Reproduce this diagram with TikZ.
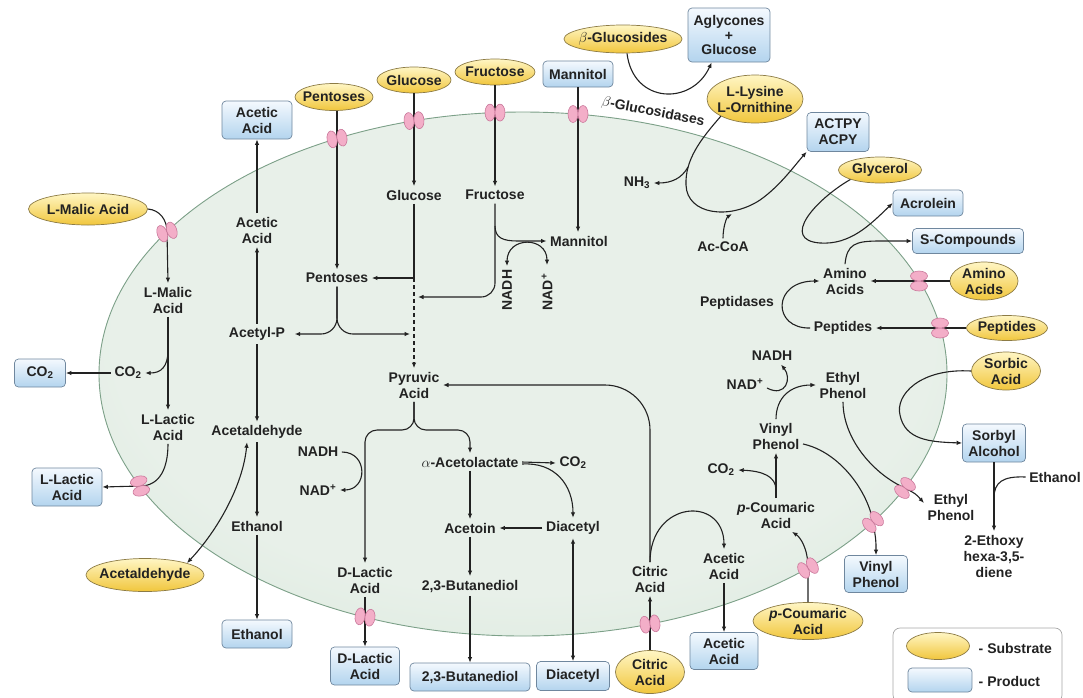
\documentclass[tikz,border=0pt]{standalone}
\usepackage{fontspec}
\setmainfont{Liberation Sans}
\usetikzlibrary{shapes.geometric,arrows.meta,calc}
\definecolor{subTop}{HTML}{FFF6C4}
\definecolor{subBot}{HTML}{F1C63C}
\definecolor{subLine}{HTML}{8C7B45}
\definecolor{prodTop}{HTML}{F4F9FE}
\definecolor{prodBot}{HTML}{B3D4EE}
\definecolor{prodLine}{HTML}{6F879E}
\definecolor{cellA}{HTML}{E8F0E9}
\definecolor{cellB}{HTML}{D3E6D7}
\definecolor{cellC}{HTML}{A6CFB2}
\definecolor{cellLine}{HTML}{7CA088}
\definecolor{chanFill}{HTML}{F3AEC8}
\definecolor{chanLine}{HTML}{C9779A}
\definecolor{ink}{HTML}{222222}
\pgfdeclareradialshading{cellshade}{\pgfpoint{0bp}{6bp}}{color(0bp)=(cellA); color(24bp)=(cellA); color(40bp)=(cellB); color(50bp)=(cellC)}
\newcommand{\labfont}{\bfseries\fontsize{14}{16}\selectfont}
\tikzset{
  sub/.style={ellipse, draw=subLine, line width=0.7pt, top color=subTop, bottom color=subBot, inner xsep=-6pt, inner ysep=-4pt, font=\labfont, align=center, text=ink},
  legsub/.style={ellipse, draw=subLine, line width=0.7pt, top color=subTop, bottom color=subBot, inner sep=0pt},
  prod/.style={rectangle, rounded corners=4pt, draw=prodLine, line width=0.7pt, top color=prodTop, bottom color=prodBot, inner sep=1pt, font=\labfont, align=center, text=ink},
  lab/.style={font=\labfont, align=center, inner sep=3.5pt, text=ink},
  con/.style={draw=ink, line width=1.1pt},
  arr/.style={con, -{Latex[length=5.5pt,width=4.5pt]}},
  darr/.style={con, {Latex[length=5.5pt,width=4.5pt]}-{Latex[length=5.5pt,width=4.5pt]}},
  chan/.pic={\foreach \s in {-1,1}{\draw[draw=chanLine, fill=chanFill, line width=0.6pt] (\s*5,0) ellipse [x radius=5, y radius=8.5];}}
}
\begin{document}
\begin{tikzpicture}[x=1pt,y=-1pt]
\useasboundingbox (0,0) rectangle (1083,697);
% cell
\shadedraw[shading=cellshade, draw=cellLine, line width=0.9pt] (523,374) ellipse [x radius=424, y radius=262];

% channel coordinates
\coordinate (cPent) at (337,138.5);
\coordinate (cGlc) at (414,120.6);
\coordinate (cFru) at (495,112.6);
\coordinate (cMan) at (578,114);
\coordinate (cMal) at (167,232);
\coordinate (cLLac) at (140,486);
\coordinate (cDLac) at (365,617);
\coordinate (cCit) at (650,624);
\coordinate (cCoum) at (808,568);
\coordinate (cVin) at (873,522);
\coordinate (cEth) at (905,488);
\coordinate (cAA) at (919,281);
\coordinate (cPep) at (940,328);

% outside nodes
\node[sub, minimum width=78, minimum height=27] (sPent) at (334,97) {Pentoses};
\node[sub, minimum width=74, minimum height=26] (sGlc) at (414,80) {Glucose};
\node[sub, minimum width=80, minimum height=26] (sFru) at (495,72) {Fructose};
\node[prod, minimum width=70, minimum height=26] (pMan) at (578,74) {Mannitol};
\node[sub, minimum width=118, minimum height=28] (sBG) at (623,39) {$\beta$-Glucosides};
\node[prod, minimum width=82, minimum height=54, font=\bfseries\fontsize{14}{14.5}\selectfont] (pAgly) at (729,35) {Aglycones\\+\\Glucose};
\node[sub, minimum width=96, minimum height=48] (sLys) at (755,99) {L-Lysine\\L-Ornithine};
\node[prod, minimum width=62, minimum height=39] (pACT) at (838,132) {ACTPY\\ACPY};
\node[sub, minimum width=83, minimum height=26] (sGly) at (880,170) {Glycerol};
\node[prod, minimum width=70, minimum height=26] (pAcr) at (928,203) {Acrolein};
\node[prod, minimum width=111, minimum height=25] (pSC) at (968,241) {S-Compounds};
\node[sub, minimum width=68, minimum height=38] (sAA) at (984,281) {Amino\\Acids};
\node[sub, minimum width=81, minimum height=25] (sPep) at (1007,328) {Peptides};
\node[sub, minimum width=69, minimum height=38] (sSorb) at (1006,371) {Sorbic\\Acid};
\node[prod, minimum width=63, minimum height=38] (pSorbyl) at (994,443) {Sorbyl\\Alcohol};
\node[lab] (tEtOH) at (1055,477) {Ethanol};
\node[lab] (tEthoxy) at (994,556) {2-Ethoxy\\hexa-3,5-\\diene};
\node[lab] (tEthylOut) at (951,507) {Ethyl\\Phenol};
\node[prod, minimum width=63, minimum height=37] (pVinyl) at (876,574) {Vinyl\\Phenol};
\node[sub, minimum width=110, minimum height=37] (sCoum) at (808,621) {\textit{p}-Coumaric\\Acid};
\node[prod, minimum width=68, minimum height=37] (pAcOut2) at (724,651) {Acetic\\Acid};
\node[sub, minimum width=69, minimum height=43] (sCit) at (650,672) {Citric\\Acid};
\node[prod, minimum width=73, minimum height=29] (pDiac) at (573,676) {Diacetyl};
\node[prod, minimum width=120, minimum height=28] (pBut) at (470,677) {2,3-Butanediol};
\node[prod, minimum width=69, minimum height=38] (pDLac) at (365,666) {D-Lactic\\Acid};
\node[prod, minimum width=70, minimum height=28] (pEtOH) at (257,634) {Ethanol};
\node[sub, minimum width=118, minimum height=33] (sAcald) at (145,575) {Acetaldehyde};
\node[prod, minimum width=70, minimum height=38] (pLLac) at (67,487) {L-Lactic\\Acid};
\node[prod, minimum width=51, minimum height=28] (pCO2) at (40,373) {CO\textsubscript{2}};
\node[sub, minimum width=119, minimum height=32] (sMal) at (88,209) {L-Malic Acid};
\node[prod, minimum width=70, minimum height=38] (pAcOut) at (257,120) {Acetic\\Acid};

% inner labels
\node[lab] (iAcet) at (257,230) {Acetic\\Acid};
\node[lab] (iPent) at (337,278) {Pentoses};
\node[lab] (iGlc) at (414,195) {Glucose};
\node[lab] (iFru) at (495,195) {Fructose};
\node[lab] (iMan) at (579,241) {Mannitol};
\node[lab, rotate=90] (iNADH1) at (507,290) {NADH};
\node[lab, rotate=90] (iNAD1) at (547,292) {NAD\textsuperscript{+}};
\node[lab] (iMal) at (168,300) {L-Malic\\Acid};
\node[lab] (iAcP) at (257,334) {Acetyl-P};
\node[lab] (iCO2) at (128,373) {CO\textsubscript{2}};
\node[lab] (iLLac) at (168,427) {L-Lactic\\Acid};
\node[lab] (iAcald) at (257,432) {Acetaldehyde};
\node[lab] (iNADH2) at (318,452) {NADH};
\node[lab] (iNAD2) at (318,490) {NAD\textsuperscript{+}};
\node[lab] (iEtOH) at (257,526) {Ethanol};
\node[lab] (iPyr) at (414,385) {Pyruvic\\Acid};
\node[lab] (iAcl) at (470,462) {$\alpha$-Acetolactate};
\node[lab] (iCO2b) at (573,463) {CO\textsubscript{2}};
\node[lab] (iAcetoin) at (470,528) {Acetoin};
\node[lab] (iDiac) at (573,528) {Diacetyl};
\node[lab] (iBut) at (470,586) {2,3-Butanediol};
\node[lab] (iDLac) at (365,580) {D-Lactic\\Acid};
\node[lab] (iCit) at (650,579) {Citric\\Acid};
\node[lab] (iAcet2) at (724,566) {Acetic\\Acid};
\node[lab] (iCoum) at (776,515) {\textit{p}-Coumaric\\Acid};
\node[lab] (iCO2c) at (721,470) {CO\textsubscript{2}};
\node[lab] (iVinyl) at (776,436) {Vinyl\\Phenol};
\node[lab] (iEthyl) at (843,385) {Ethyl\\Phenol};
\node[lab] (iNADH3) at (772,356) {NADH};
\node[lab] (iNAD3) at (745,384) {NAD\textsuperscript{+}};
\node[lab] (iAA) at (845,281) {Amino\\Acids};
\node[lab] (iPep) at (843,328) {Peptides};
\node[lab] (iPeptidases) at (737,303) {Peptidases};
\node[lab] (iNH3) at (637,183) {NH\textsubscript{3}};
\node[lab] (iAcCoA) at (723,247) {Ac-CoA};
\node[lab, rotate=-11, inner sep=1pt] (tBGase) at (653,112) {$\beta$-Glucosidases};

% junction coordinates
\coordinate (jG) at (414,278);
\coordinate (jF) at (414,297);
\coordinate (jP) at (414,334);
\coordinate (jM1) at (495,226);
\coordinate (jMal) at (168,350);
\coordinate (jC) at (776,490);
\coordinate (jE) at (994,498);
\coordinate (jL) at (688,167);
\coordinate (jA) at (732,214);

% connectors: top sugars
\draw[arr] (sPent.south -| cPent) -- (iPent.north);
\draw[arr] (sGlc.south) -- (iGlc.north);
\draw[arr] (sFru.south) -- (iFru.north);
\draw[arr] (pMan.south) -- (pMan.south |- iMan.north);
\draw[con] (iGlc.south) -- (jG);
\draw[arr, dash pattern=on 4pt off 3pt] (jG) -- (iPyr.north);
\draw[arr] (jG) -- (iPent.east);
\draw[arr, rounded corners=14pt] (iFru.south) |- ([xshift=4pt]jF);
\draw[arr] (jM1) .. controls (495,238) and (503,241) .. (518,241) -- (iMan.west);
\draw[darr] (iNADH1.east) .. controls (507,236) and (547,236) .. ([yshift=5pt]iNAD1.east);
\draw[arr, rounded corners=16pt] (iPent.south) |- ([xshift=6pt]iAcP.east);
\draw[arr, rounded corners=16pt] (iPent.south) |- ([xshift=-4pt]jP);

% left pathway
\draw[arr] (iAcP.north) -- (iAcet.south);
\draw[arr] (iAcP.south) -- (iAcald.north);
\draw[arr] (iAcet.north) -- (pAcOut.south);
\draw[arr] (iAcald.south) -- (iEtOH.north);
\draw[arr] (iEtOH.south) -- (pEtOH.north);
\draw[darr] ([xshift=-10pt]iAcald.south) .. controls (243,485) and (218,530) .. (sAcald.north east);
\draw[arr] (sMal.east) .. controls (160,210) and (167,220) .. (cMal) -- (iMal.north);
\draw[arr] (iMal.south) -- (iLLac.north);
\draw[arr] (jMal) .. controls (168,367) and (161,373) .. (iCO2.east);
\draw[arr] (iCO2.west) -- (pCO2.east);
\draw[arr] (iLLac.south) .. controls (168,468) and (160,486) .. (cLLac) -- (pLLac.east);

% pyruvate
\draw[arr, rounded corners=12pt] (iPyr.south) |- (440,430) -| (iAcl.north);
\draw[arr, rounded corners=12pt] (iPyr.south) |- (390,430) -| (iDLac.north);
\draw[arr] (iNADH2.east) .. controls (368,452) and (368,490) .. (iNAD2.east);
\draw[arr] (iDLac.south) -- (pDLac.north);
\draw[arr] (iAcl.south) -- (iAcetoin.north);
\draw[arr] (iAcl.east) -- (iCO2b.west);
\draw[arr] ([yshift=-2pt]iAcl.east) .. controls (555,462) and (573,485) .. (iDiac.north);
\draw[arr] (iDiac.west) -- (iAcetoin.east);
\draw[arr] (iAcetoin.south) -- (iBut.north);
\draw[arr] (iBut.south) -- (pBut.north);
\draw[darr] (iDiac.south) -- (pDiac.north);

% citrate
\draw[arr] (sCit.north) -- (iCit.south);
\draw[arr, rounded corners=45pt] (iCit.north) |- (iPyr.east);
\draw[arr] (iCit.north) .. controls (650,500) and (724,495) .. (iAcet2.north);
\draw[arr] (iAcet2.south) -- (pAcOut2.north);

% phenols
\draw[arr] (sCoum.north) -- (cCoum) .. controls (808,548) and (800,537) .. ([xshift=16pt]iCoum.south);
\draw[arr] (iCoum.north) -- (iVinyl.south);
\draw[arr] (jC) .. controls (776,476) and (762,471) .. (iCO2c.east);
\draw[arr] (iVinyl.north) .. controls (776,398) and (790,385) .. (iEthyl.west);
\draw[arr] ([yshift=-4pt]iNAD3.east) .. controls (786,398) and (792,378) .. ([xshift=9pt]iNADH3.south);
\draw[arr] (iEthyl.south) .. controls (843,440) and (875,475) .. (cEth) .. controls (916,494) .. ([yshift=4pt]tEthylOut.west);
\draw[arr] ([yshift=-8pt]iVinyl.east) .. controls (840,452) and (868,492) .. (cVin) .. controls (876,540) .. (pVinyl.north);

% amino acids / peptides
\draw[arr] (sAA.west) -- (iAA.east);
\draw[arr] (sPep.west) -- (iPep.east);
\draw[arr] (iPep.west) .. controls (772,329) and (772,281) .. (iAA.west);
\draw[arr] (iAA.north) .. controls (847,244) and (855,241) .. (880,241) -- (pSC.west);

% sorbic
\draw[arr] (sSorb.west) .. controls (920,368) and (895,395) .. (900,415) .. controls (905,440) and (930,442) .. (pSorbyl.west);
\draw[arr] (pSorbyl.south) -- (tEthoxy.north);
\draw[con] (tEtOH.west) .. controls (1003,476) and (994,482) .. (jE);

% glycerol, lysine, glucosides
\draw[arr] (sGly.south west) .. controls (815,200) and (780,240) .. (820,243) .. controls (850,245) and (870,225) .. (pAcr.west);
\draw[arr] (sLys.south west) .. controls (700,140) and (685,160) .. (686,185) .. controls (687,215) and (730,220) .. (760,200) .. controls (780,186) and (795,165) .. (pACT.south west);
\draw[arr] (jL) .. controls (682,178) and (672,183) .. (iNH3.east);
\draw[arr] (iAcCoA.north) .. controls (723,226) and (727,217) .. (jA);
\draw[arr] ([xshift=4pt]sBG.south) .. controls (633,104) and (692,106) .. ([xshift=24pt]pAgly.south west);

% channels
\pic[rotate=10] at (cPent) {chan};
\pic[rotate=5] at (cGlc) {chan};
\pic at (cFru) {chan};
\pic at (cMan) {chan};
\pic[rotate=20] at (cMal) {chan};
\pic[rotate=105] at (cLLac) {chan};
\pic[rotate=-8] at (cDLac) {chan};
\pic[rotate=8] at (cCit) {chan};
\pic[rotate=29] at (cCoum) {chan};
\pic[rotate=42] at (cVin) {chan};
\pic[rotate=52] at (cEth) {chan};
\pic[rotate=90] at (cAA) {chan};
\pic[rotate=90] at (cPep) {chan};

% legend
\draw[draw=black!35, fill=white, line width=0.7pt, rounded corners=7pt] (893,628) rectangle (1062,702);
\node[legsub, minimum width=63, minimum height=27] (lgS) at (938,646) {};
\node[prod, minimum width=64, minimum height=24] (lgP) at (940,680) {};
\node[lab, anchor=west] (lgSt) at (975,648) {- Substrate};
\node[lab, anchor=west] (lgPt) at (975,681) {- Product};
\end{tikzpicture}
\end{document}
